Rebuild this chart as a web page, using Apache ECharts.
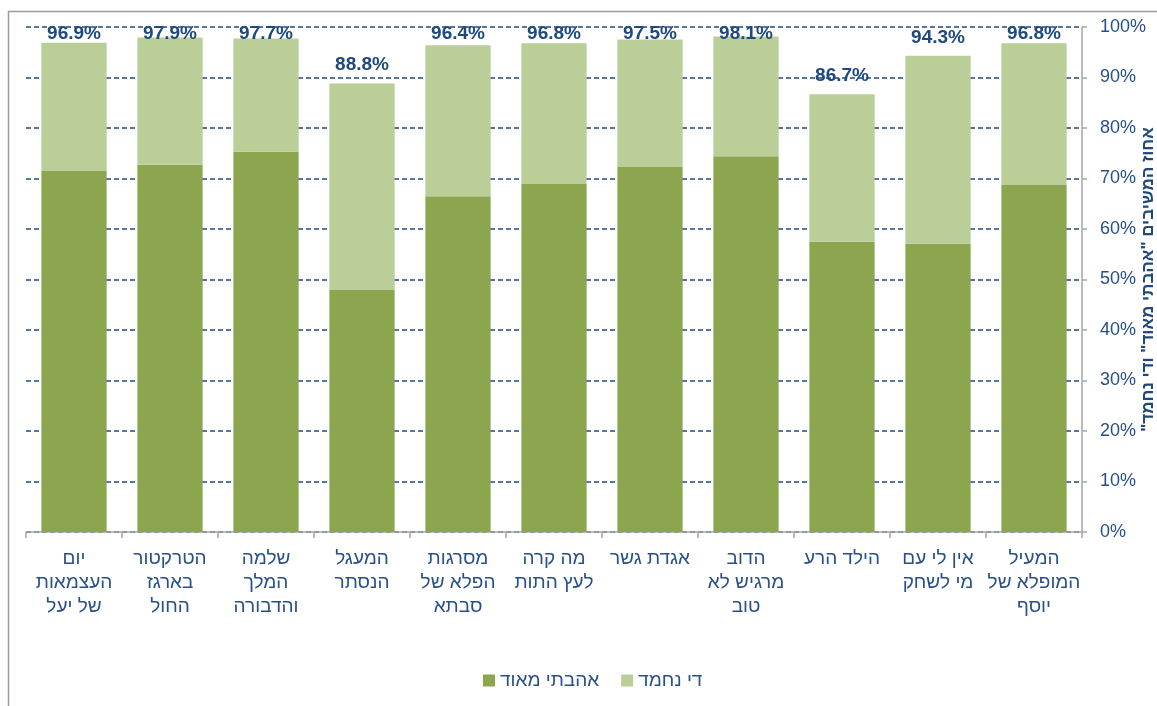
<!DOCTYPE html>
<html>
<head>
<meta charset="utf-8">
<script src="https://cdn.jsdelivr.net/npm/echarts/dist/echarts.min.js"></script>
<style>
  html, body { margin: 0; padding: 0; background: #fff; }
  #chart { width: 1157px; height: 706px; }
</style>
</head>
<body>
<div id="chart"></div>
<script>
// books, left to right
const categories = [
  'יום\nהעצמאות\nשל יעל',
  'הטרקטור\nבארגז\nהחול',
  'שלמה\nהמלך\nוהדבורה',
  'המעגל\nהנסתר',
  'מסרגות\nהפלא של\nסבתא',
  'מה קרה\nלעץ התות',
  'אגדת גשר',
  'הדוב\nמרגיש לא\nטוב',
  'הילד הרע',
  'אין לי עם\nמי לשחק',
  'המעיל\nהמופלא של\nיוסף'
];
// "loved it a lot" (bottom) and "quite nice" (top), in %
const lovedALot = [71.5, 72.7, 75.3, 47.9, 66.5, 68.9, 72.3, 74.4, 57.5, 57.1, 68.7];
const quiteNice = [25.4, 25.2, 22.4, 40.9, 29.9, 27.9, 25.2, 23.7, 29.2, 37.2, 28.1];
const totals = [96.9, 97.9, 97.7, 88.8, 96.4, 96.8, 97.5, 98.1, 86.7, 94.3, 96.8];

const seriesNames = ['אהבתי מאוד', 'די נחמד'];
const yAxisTitle = 'אחוז המשיבים "אהבתי מאוד" ודי נחמד"\u200F';

const blue = '#1F497D';
const textBlue = '#27508A';
const gray = '#A6A6A6';
const font = "'Liberation Sans', Arial, sans-serif";

const chart = echarts.init(document.getElementById('chart'));

const option = {
  animation: false,
  textStyle: {fontFamily: font},
  graphic: [{
    type: 'rect',
    shape: {x: 8.5, y: 11.5, width: 1200, height: 800},
    style: {fill: 'none', stroke: '#9C9C9C', lineWidth: 1.5},
    silent: true
  }],
  legend: {
    data: seriesNames,
    left: 478,
    top: 666,
    icon: 'rect',
    itemWidth: 12,
    itemHeight: 12,
    itemGap: 22,
    textStyle: {color: textBlue, fontSize: 19, fontFamily: font}
  },
  grid: {
    left: 26,
    right: 75,
    top: 27,
    bottom: 174,
    containLabel: false,
    outerBoundsMode: 'none'
  },
  xAxis: {
    type: 'category',
    data: categories,
    axisLine: {lineStyle: {color: gray, width: 1.5}},
    axisTick: {show: true, length: 6, lineStyle: {color: gray, width: 1.5}},
    axisLabel: {
      interval: 0,
      margin: 15,
      color: textBlue,
      fontSize: 19,
      lineHeight: 24,
      fontFamily: font
    }
  },
  yAxis: {
    type: 'value',
    position: 'right',
    min: 0,
    max: 100,
    interval: 10,
    name: yAxisTitle,
    nameLocation: 'middle',
    nameRotate: 90,
    nameGap: 58,
    nameMoveOverlap: false,
    nameTextStyle: {color: blue, fontSize: 17, fontWeight: 'bold', fontFamily: font},
    axisLine: {show: true, lineStyle: {color: gray, width: 1.5}},
    axisTick: {show: true, length: 5, lineStyle: {color: gray, width: 1.5}},
    axisLabel: {
      formatter: '{value}%',
      color: textBlue,
      fontSize: 18,
      margin: 18,
      fontFamily: font
    },
    splitLine: {
      show: true,
      lineStyle: {color: blue, width: 1.6, type: [5, 3]}
    }
  },
  series: [
    {
      name: seriesNames[0],
      type: 'bar',
      stack: 'total',
      barCategoryGap: '32%',
      itemStyle: {color: '#8BA64F'},
      data: lovedALot
    },
    {
      name: seriesNames[1],
      type: 'bar',
      stack: 'total',
      barCategoryGap: '32%',
      itemStyle: {color: '#BACF98'},
      data: quiteNice,
      label: {
        show: true,
        position: 'top',
        distance: 9,
        color: blue,
        fontSize: 19,
        fontWeight: 'bold',
        fontFamily: font,
        formatter: p => totals[p.dataIndex].toFixed(1) + '%'
      },
      // keep labels inside the chart area, like the original
      labelLayout: p => {
        const r = p.labelRect;
        return {
          x: r.x + r.width / 2,
          y: Math.max(r.y + r.height / 2, 34),
          align: 'center',
          verticalAlign: 'middle'
        };
      }
    }
  ]
};

chart.setOption(option);
</script>
</body>
</html>
